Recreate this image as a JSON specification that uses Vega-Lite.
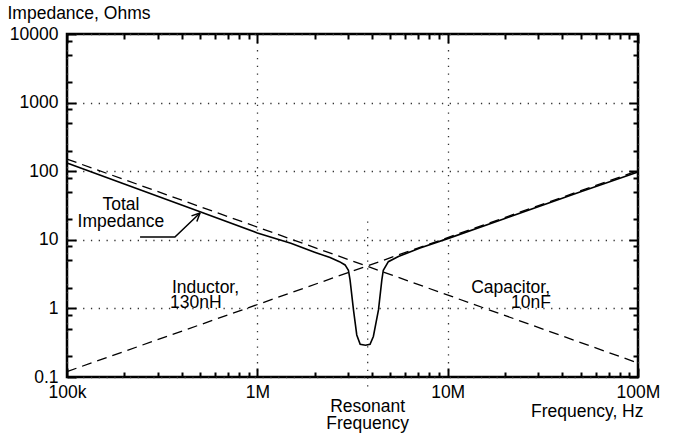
{
  "$schema": "https://vega.github.io/schema/vega-lite/v6.json",
  "width": 571,
  "height": 343,
  "autosize": {"type": "none"},
  "padding": {"left": 67, "top": 34, "right": 35, "bottom": 59},
  "background": "white",
  "resolve": {"scale": {"x": "independent", "y": "independent"}, "axis": {"x": "independent", "y": "independent"}},
  "config": {
    "view": {"stroke": "black", "strokeWidth": 2.5},
    "axis": {"labelFont": "Liberation Sans", "titleFont": "Liberation Sans", "labelFontSize": 17.5, "titleFontSize": 17.5, "labelColor": "black", "titleColor": "black", "titleFontWeight": "normal"},
    "text": {"font": "Liberation Sans", "fontSize": 17.5, "color": "black"}
  },
  "layer": [
    {
      "data": {"values": [
        {"f": 100000, "z": 132}, {"f": 200000, "z": 65}, {"f": 500000, "z": 25.6}, {"f": 1000000, "z": 12.6},
        {"f": 1500000, "z": 8.9}, {"f": 2000000, "z": 6.6}, {"f": 2410000, "z": 5.5}, {"f": 2700000, "z": 4.8},
        {"f": 2890000, "z": 4.3}, {"f": 3010000, "z": 3.6}, {"f": 3070000, "z": 2.6}, {"f": 3200000, "z": 0.95},
        {"f": 3330000, "z": 0.41}, {"f": 3470000, "z": 0.3}, {"f": 3700000, "z": 0.29}, {"f": 3910000, "z": 0.3},
        {"f": 4070000, "z": 0.39}, {"f": 4330000, "z": 0.95}, {"f": 4510000, "z": 2.6}, {"f": 4590000, "z": 3.6},
        {"f": 4880000, "z": 4.8}, {"f": 5510000, "z": 5.7}, {"f": 7160000, "z": 7.6}, {"f": 10000000, "z": 10.4},
        {"f": 20000000, "z": 20.5}, {"f": 50000000, "z": 50}, {"f": 100000000, "z": 97}
      ]},
      "mark": {"type": "line", "color": "black", "strokeWidth": 1.6},
      "encoding": {
        "x": {"field": "f", "type": "quantitative", "scale": {"type": "log", "domain": [100000, 100000000]},
          "axis": {"orient": "bottom", "values": [100000, 1000000, 10000000, 100000000],
            "labelExpr": "datum.value > 50000000 ? '100M' : datum.value > 5000000 ? '10M' : datum.value > 500000 ? '1M' : '100k'",
            "labelFlush": false, "labelOverlap": false, "labelBound": false, "labelPadding": 6,
            "ticks": false, "domain": false, "grid": true, "gridColor": "#333", "gridWidth": 1.3, "gridDash": [1.3, 6.5],
            "title": "Frequency, Hz", "titleAlign": "right", "titleBaseline": "alphabetic", "titleX": 576, "titleY": 39}},
        "y": {"field": "z", "type": "quantitative", "scale": {"type": "log", "domain": [0.1, 10000]},
          "axis": {"orient": "left", "values": [0.1, 1, 10, 100, 1000, 10000],
            "labelExpr": "'' + datum.value", "labelOverlap": false, "labelFlush": false, "labelPadding": 9,
            "ticks": false, "domain": false, "grid": true, "gridColor": "#333", "gridWidth": 1.3, "gridDash": [1.3, 6.5],
            "title": "Impedance, Ohms", "titleAngle": 0, "titleAlign": "left", "titleBaseline": "alphabetic", "titleX": -60, "titleY": -15.5}}
      }
    },
    {
      "data": {"values": [{"f": 100000, "z": 0.12}, {"f": 100000000, "z": 102}]},
      "mark": {"type": "line", "color": "black", "strokeWidth": 1.3, "strokeDash": [10, 6]},
      "encoding": {
        "x": {"field": "f", "type": "quantitative", "scale": {"type": "log", "domain": [100000, 100000000]},
          "axis": {"orient": "bottom", "offset": -9, "values": [100000, 1000000, 10000000, 100000000], "labels": false, "domain": false, "grid": false,
            "ticks": true, "tickSize": 9, "tickWidth": 2, "tickColor": "black", "title": null, "zindex": 1}},
        "y": {"field": "z", "type": "quantitative", "scale": {"type": "log", "domain": [0.1, 10000]},
          "axis": {"orient": "left", "offset": -9, "values": [0.1, 1, 10, 100, 1000, 10000], "labels": false, "domain": false, "grid": false,
            "ticks": true, "tickSize": 9, "tickWidth": 2, "tickColor": "black", "title": null, "zindex": 1}}
      }
    },
    {
      "data": {"values": [{"f": 100000, "z": 150}, {"f": 100000000, "z": 0.16}]},
      "mark": {"type": "line", "color": "black", "strokeWidth": 1.3, "strokeDash": [10, 6]},
      "encoding": {
        "x": {"field": "f", "type": "quantitative", "scale": {"type": "log", "domain": [100000, 100000000]},
          "axis": {"orient": "bottom", "offset": -5, "values": [200000, 300000, 400000, 500000, 600000, 700000, 800000, 900000, 2000000, 3000000, 4000000, 5000000, 6000000, 7000000, 8000000, 9000000, 20000000, 30000000, 40000000, 50000000, 60000000, 70000000, 80000000, 90000000],
            "labels": false, "domain": false, "grid": false, "ticks": true, "tickSize": 5, "tickWidth": 2, "tickColor": "black", "title": null, "zindex": 1}},
        "y": {"field": "z", "type": "quantitative", "scale": {"type": "log", "domain": [0.1, 10000]},
          "axis": {"orient": "left", "offset": -5, "values": [0.2, 0.5, 0.8, 2, 5, 8, 20, 50, 80, 200, 500, 800, 2000, 5000, 8000],
            "labels": false, "domain": false, "grid": false, "ticks": true, "tickSize": 5, "tickWidth": 2, "tickColor": "black", "title": null, "zindex": 1}}
      }
    },
    {
      "data": {"values": [
        {"seg": "stem", "f": 242000, "z": 11}, {"seg": "stem", "f": 369000, "z": 11}, {"seg": "stem", "f": 500000, "z": 24.6},
        {"seg": "barb1", "f": 451000, "z": 22.3}, {"seg": "barb1", "f": 500000, "z": 24.6},
        {"seg": "barb2", "f": 481000, "z": 18.5}, {"seg": "barb2", "f": 500000, "z": 24.6}
      ]},
      "mark": {"type": "line", "color": "black", "strokeWidth": 1.5},
      "encoding": {
        "detail": {"field": "seg"},
        "x": {"field": "f", "type": "quantitative", "scale": {"type": "log", "domain": [100000, 100000000]},
          "axis": {"orient": "top", "offset": -9, "values": [100000, 1000000, 10000000, 100000000], "labels": false, "domain": false, "grid": false,
            "ticks": true, "tickSize": 9, "tickWidth": 2, "tickColor": "black", "title": null, "zindex": 1}},
        "y": {"field": "z", "type": "quantitative", "scale": {"type": "log", "domain": [0.1, 10000]},
          "axis": {"orient": "right", "offset": -9, "values": [0.1, 1, 10, 100, 1000, 10000], "labels": false, "domain": false, "grid": false,
            "ticks": true, "tickSize": 9, "tickWidth": 2, "tickColor": "black", "title": null, "zindex": 1}}
      }
    },
    {
      "data": {"values": [{"f": 3800000, "top": 18.5, "bottom": 0.069}]},
      "mark": {"type": "rule", "color": "#333", "strokeWidth": 1.3, "strokeDash": [1.3, 6.5]},
      "encoding": {
        "x": {"field": "f", "type": "quantitative", "scale": {"type": "log", "domain": [100000, 100000000]},
          "axis": {"orient": "top", "offset": -5, "values": [200000, 300000, 400000, 500000, 600000, 700000, 800000, 900000, 2000000, 3000000, 4000000, 5000000, 6000000, 7000000, 8000000, 9000000, 20000000, 30000000, 40000000, 50000000, 60000000, 70000000, 80000000, 90000000],
            "labels": false, "domain": false, "grid": false, "ticks": true, "tickSize": 5, "tickWidth": 2, "tickColor": "black", "title": null, "zindex": 1}},
        "y": {"field": "top", "type": "quantitative", "scale": {"type": "log", "domain": [0.1, 10000]},
          "axis": {"orient": "right", "offset": -5, "values": [0.2, 0.5, 0.8, 2, 5, 8, 20, 50, 80, 200, 500, 800, 2000, 5000, 8000],
            "labels": false, "domain": false, "grid": false, "ticks": true, "tickSize": 5, "tickWidth": 2, "tickColor": "black", "title": null, "zindex": 1}},
        "y2": {"field": "bottom"}
      }
    },
    {
      "data": {"values": [{}]},
      "mark": {"type": "text", "align": "center", "baseline": "middle"},
      "encoding": {"x": {"datum": 192000, "type": "quantitative", "scale": {"type": "log", "domain": [100000, 100000000]}, "axis": null}, "y": {"datum": 32.2, "type": "quantitative", "scale": {"type": "log", "domain": [0.1, 10000]}, "axis": null}, "text": {"value": "Total"}}
    },
    {
      "data": {"values": [{}]},
      "mark": {"type": "text", "align": "center", "baseline": "middle"},
      "encoding": {"x": {"datum": 192000, "type": "quantitative", "scale": {"type": "log", "domain": [100000, 100000000]}, "axis": null}, "y": {"datum": 18.2, "type": "quantitative", "scale": {"type": "log", "domain": [0.1, 10000]}, "axis": null}, "text": {"value": "Impedance"}}
    },
    {
      "data": {"values": [{}]},
      "mark": {"type": "text", "align": "left", "baseline": "middle"},
      "encoding": {"x": {"datum": 356000, "type": "quantitative", "scale": {"type": "log", "domain": [100000, 100000000]}, "axis": null}, "y": {"datum": 1.98, "type": "quantitative", "scale": {"type": "log", "domain": [0.1, 10000]}, "axis": null}, "text": {"value": "Inductor,"}}
    },
    {
      "data": {"values": [{}]},
      "mark": {"type": "text", "align": "left", "baseline": "middle"},
      "encoding": {"x": {"datum": 348000, "type": "quantitative", "scale": {"type": "log", "domain": [100000, 100000000]}, "axis": null}, "y": {"datum": 1.2, "type": "quantitative", "scale": {"type": "log", "domain": [0.1, 10000]}, "axis": null}, "text": {"value": "130nH"}}
    },
    {
      "data": {"values": [{}]},
      "mark": {"type": "text", "align": "right", "baseline": "middle"},
      "encoding": {"x": {"datum": 34500000, "type": "quantitative", "scale": {"type": "log", "domain": [100000, 100000000]}, "axis": null}, "y": {"datum": 1.98, "type": "quantitative", "scale": {"type": "log", "domain": [0.1, 10000]}, "axis": null}, "text": {"value": "Capacitor,"}}
    },
    {
      "data": {"values": [{}]},
      "mark": {"type": "text", "align": "right", "baseline": "middle"},
      "encoding": {"x": {"datum": 34900000, "type": "quantitative", "scale": {"type": "log", "domain": [100000, 100000000]}, "axis": null}, "y": {"datum": 1.2, "type": "quantitative", "scale": {"type": "log", "domain": [0.1, 10000]}, "axis": null}, "text": {"value": "10nF"}}
    },
    {
      "data": {"values": [{}]},
      "mark": {"type": "text", "align": "center", "baseline": "middle"},
      "encoding": {"x": {"datum": 3800000, "type": "quantitative", "scale": {"type": "log", "domain": [100000, 100000000]}, "axis": null}, "y": {"datum": 0.0365, "type": "quantitative", "scale": {"type": "log", "domain": [0.1, 10000]}, "axis": null}, "text": {"value": "Resonant"}}
    },
    {
      "data": {"values": [{}]},
      "mark": {"type": "text", "align": "center", "baseline": "middle"},
      "encoding": {"x": {"datum": 3800000, "type": "quantitative", "scale": {"type": "log", "domain": [100000, 100000000]}, "axis": null}, "y": {"datum": 0.0206, "type": "quantitative", "scale": {"type": "log", "domain": [0.1, 10000]}, "axis": null}, "text": {"value": "Frequency"}}
    }
  ]
}
